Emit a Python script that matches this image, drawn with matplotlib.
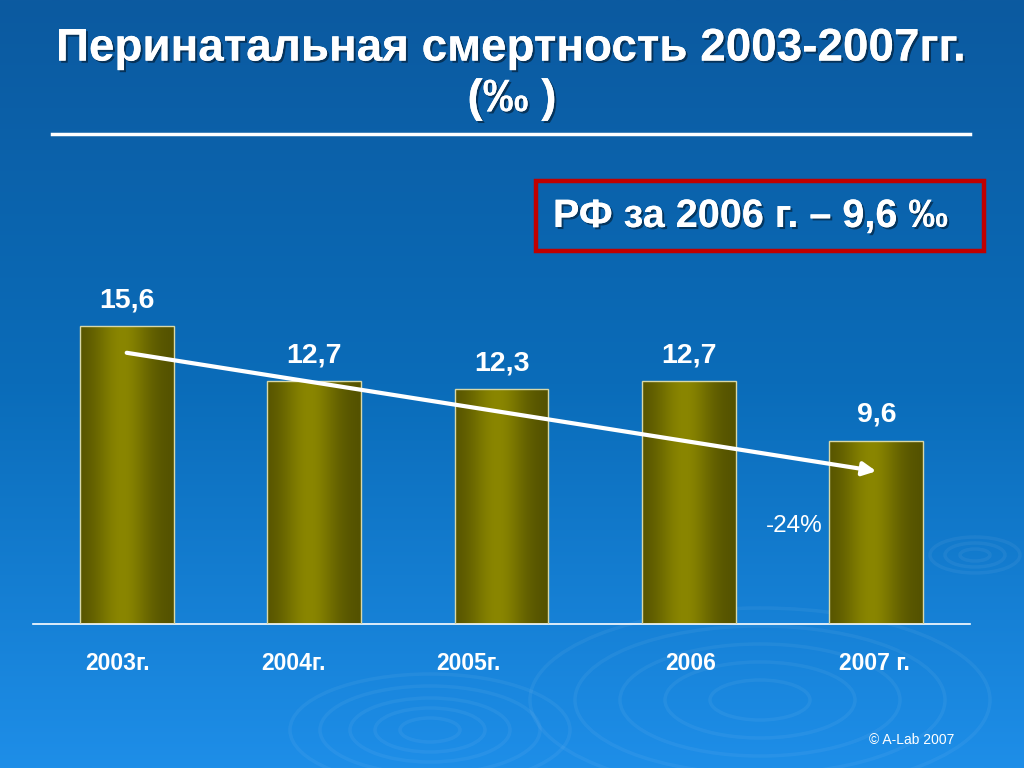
import numpy as np
import matplotlib
matplotlib.use('Agg')
import matplotlib.pyplot as plt
import matplotlib.patches as mpatches
import matplotlib.patheffects as pe
from matplotlib.lines import Line2D

plt.rcParams['font.family'] = ['Liberation Sans', 'DejaVu Sans']

# данные
years = ['2003г.', '2004г.', '2005г.', '2006', '2007 г.']
values = [15.6, 12.7, 12.3, 12.7, 9.6]
value_labels = ['15,6', '12,7', '12,3', '12,7', '9,6']
trend_start = 14.2
trend_end = 8.0
title = 'Перинатальная смертность 2003-2007гг.\n(‰ )'
box_text = 'РФ за 2006 г. – 9,6 ‰'
change_text = '-24%'
copyright_text = '© A-Lab 2007'
# сдвиг подписей годов (в пикселях), как на слайде
label_shift = [-9, -21, -33, 2, -2]

fig = plt.figure(figsize=(10.24, 7.68), dpi=100)

# фон - вертикальный градиент
bg = fig.add_axes([0, 0, 1, 1], zorder=-10)
top = np.array([12, 90, 160]) / 255
mid = np.array([10, 108, 185]) / 255
bot = np.array([30, 142, 232]) / 255
t = np.linspace(0, 1, 256)[:, None]
grad = np.where(t < 0.5, top * (1 - 2 * t) + mid * 2 * t, mid * (2 - 2 * t) + bot * (2 * t - 1))
bg.imshow(grad[:, None, :], aspect='auto', extent=[0, 1, 0, 1], origin='upper')
# круги на воде
for cx, cy, rads in [(760, 700, [50, 95, 140, 185, 230]),
                     (430, 730, [30, 55, 80, 110, 140]),
                     (975, 555, [15, 30, 45])]:
    for r in rads:
        e = mpatches.Ellipse((cx / 1024, 1 - cy / 768), 2 * r / 1024, 0.8 * r / 768,
                             fill=False, ec='white', lw=2.5, alpha=0.05)
        bg.add_patch(e)
bg.set_xlim(0, 1)
bg.set_ylim(0, 1)
bg.axis('off')

shadow = [pe.withSimplePatchShadow(offset=(1.5, -1.5), shadow_rgbFace='black', alpha=0.45), pe.Normal()]

fig.text(0.5, 1 - 74 / 768, title, ha='center', va='center', color='white',
         fontsize=33, fontweight='bold', linespacing=1.2, path_effects=shadow)
fig.add_artist(Line2D([52 / 1024, 970 / 1024], [1 - 134 / 768, 1 - 134 / 768],
                      color='white', lw=2.5))

# красная рамка
fig.add_artist(mpatches.Rectangle((536 / 1024, 1 - 251 / 768), 448 / 1024, 70 / 768,
                                  fill=False, ec='#C00000', lw=3.2))
fig.text(553 / 1024, 1 - 216 / 768, box_text, ha='left', va='center', color='white',
         fontsize=28.5, fontweight='bold', path_effects=shadow)

ax = fig.add_axes([33 / 1024, 144 / 768, 937 / 1024, 382 / 768])
ax.patch.set_alpha(0)
x = np.arange(len(values))
bars = ax.bar(x, values, width=0.5, color='none', edgecolor='#D8D8A8', lw=1, zorder=3)

# градиент столбцов
cg = np.linspace(0, 1, 200)
shade = np.exp(-((cg - 0.45) / 0.3) ** 2)
dark = np.array([82, 80, 0]) / 255
light = np.array([138, 134, 0]) / 255
bar_img = dark[None, :] * (1 - shade[:, None]) + light[None, :] * shade[:, None]
for b in bars:
    im = ax.imshow(bar_img[None, :, :], aspect='auto', zorder=2,
                   extent=[b.get_x(), b.get_x() + b.get_width(), 0, b.get_height()])
    im.set_clip_path(b)
ax.set_xlim(-0.5, 4.5)
ax.set_ylim(0, 20)

for xi, v, lab in zip(x, values, value_labels):
    ax.annotate(lab, (xi, v), xytext=(0, 26), textcoords='offset pixels',
                ha='center', va='center', color='white', fontsize=20.5, fontweight='bold')

ax.annotate('', xy=(4.0, trend_end), xytext=(0, trend_start),
            arrowprops=dict(arrowstyle='-|>,head_length=0.8,head_width=0.4',
                            color='white', lw=3, shrinkA=0, shrinkB=0), zorder=5)
ax.text(3.56, 5.13, change_text, ha='center', va='center', color='white', fontsize=17.5)

ax.set_xticks(x)
ax.set_xticklabels(years, color='white', fontsize=16.5, fontweight='bold')
ax.tick_params(axis='x', length=0, pad=20)
for lbl, dx in zip(ax.get_xticklabels(), label_shift):
    lbl.set_x(lbl.get_position()[0])
    lbl.set_transform(lbl.get_transform() + matplotlib.transforms.Affine2D().translate(dx, 0))
ax.set_yticks([])
for s in ['top', 'right', 'left']:
    ax.spines[s].set_visible(False)
ax.spines['bottom'].set_color('white')
ax.spines['bottom'].set_linewidth(1.2)

fig.text(912 / 1024, 1 - 740 / 768, copyright_text, ha='center', va='center',
         color='white', fontsize=10)

fig.savefig('out.png', dpi=100)
